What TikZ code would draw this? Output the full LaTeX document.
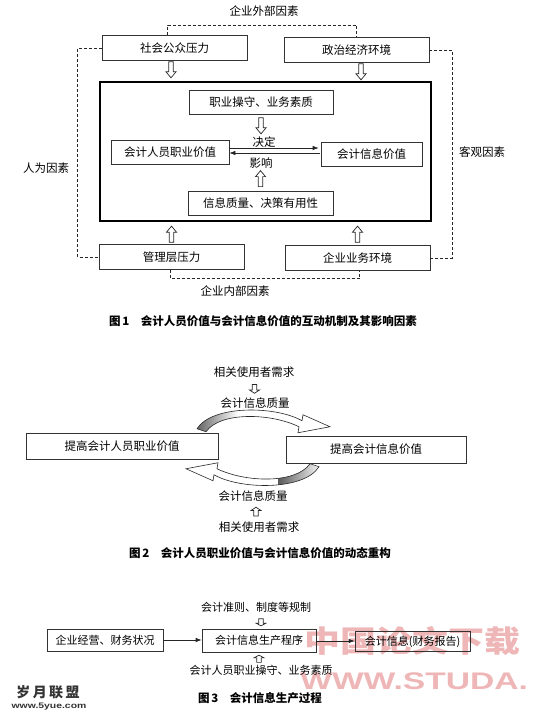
\documentclass[tikz,border=0pt]{standalone}
\usepackage{fontspec}
\setmainfont{Noto Sans CJK SC}
\newfontfamily\latinfont{Liberation Sans}
\usepackage{xcolor}
\usetikzlibrary{arrows.meta,positioning,calc}
\definecolor{wmpink}{RGB}{238,182,182}
\newcommand{\fsz}{\fontsize{11.5pt}{13pt}\selectfont}
\newcommand{\smfsz}{\fontsize{11pt}{13pt}\selectfont}
% outline of the bent arrow (pic coordinates, y down)
\newcommand{\bandpath}{(-61,-19) .. controls (-46,-43) and (18,-42) .. (44,-27)
  -- (45,-33) -- (72,-21) -- (40,-15) -- (41,-21)
  .. controls (12,-35) and (-38,-36) .. (-52,-16) -- cycle}

\begin{document}
\begin{tikzpicture}[
  x=1pt, y=-1pt, font=\fsz, >={Latex[length=6pt,width=4.5pt]},
  box/.style={draw=black!80, line width=0.7pt, inner sep=2pt},
  obox/.style={box, minimum width=145pt, minimum height=25pt},
  ibox/.style={box, minimum height=24pt},
  pbox/.style={box, font=\smfsz, minimum height=22pt},
  sysbox/.style={draw=black, line width=2.2pt, minimum width=331pt, minimum height=139pt},
  dashln/.style={draw=black!85, line width=0.8pt, dash pattern=on 3pt off 2pt},
  thinln/.style={draw=black!85, line width=0.7pt},
  captxt/.style={font=\fsz\bfseries},
  wmark/.style={text=wmpink, inner sep=0pt},
  hollow/.style={draw=black!85, line width=0.7pt, fill=white},
  pics/hdown/.style={code={
    \draw[hollow] (-2.2,0) -- (-2.2,10) -- (-5,10) -- (0,16) -- (5,10) -- (2.2,10) -- (2.2,0) -- cycle;}},
  pics/band/.style={code={
    \fill[white] \bandpath;
    \begin{scope}
      \clip \bandpath;
      \shade[left color=black!65, right color=white] (-64,-50) rectangle (-20,0);
    \end{scope}
    \draw[line width=0.6pt, black!85] \bandpath;}}]
\useasboundingbox (0,0) rectangle (536,719);

% watermarks
\node[wmark, font=\fontsize{30pt}{32pt}\selectfont\bfseries, xscale=1.2] (wm1) at (412,641) {中国论文下载};
\node[wmark, font=\latinfont\fontsize{24pt}{26pt}\selectfont\bfseries, xscale=1.4, anchor=west] (wm2) at (300,681) {WWW.STUDA.};
\node[font=\fontsize{14pt}{15pt}\selectfont\bfseries, text=black!80] (logo) at (48,692) {岁\,月\,联\,盟};
\node[font=\latinfont\fontsize{8pt}{9pt}\selectfont\bfseries, xscale=1.3, text=black!80] (url) at (49,707) {www.5yue.com};

% ---- figure 1: outer factors
\node (ext) at (264,11) {企业外部因素};
\node[obox] (soc) at (174.5,48) {社会公众压力};
\node[obox] (pol) at (356.5,50) {政治经济环境};
\node[obox] (mgt) at (171.5,257) {管理层压力};
\node[obox] (bus) at (357.5,258) {企业业务环境};
\node (int) at (235,291) {企业内部因素};
\node (hum) at (46,168) {人为因素};
\node (obj) at (482,152) {客观因素};
% interaction system
\node[sysbox] (sys) at (265.5,151.5) {};
\node[ibox, minimum width=144pt] (duty) at (261,102.5) {职业操守、业务素质};
\node[ibox, minimum width=118pt] (pv) at (170,152) {会计人员职业价值};
\node[ibox, minimum width=101pt] (iv) at (371.5,154) {会计信息价值};
\node[ibox, minimum width=145pt] (qual) at (260.5,203) {信息质量、决策有用性};
\node (dec) at (264,142) {决定};
\node (inf) at (261,163) {影响};
\draw[thinln, ->, shorten >=2pt] ([yshift=4pt]pv.east) -- ([yshift=4pt]pv.east -| iv.west);
\draw[thinln, ->, shorten <=1pt] ([yshift=1pt]iv.west) -- ([yshift=1pt]iv.west -| pv.east);
% dashed frames
\draw[dashln] ([xshift=-7pt]soc.north) -- ++(0,-10) -| (pol.north);
\draw[dashln] ([xshift=-1pt]mgt.south) -- ++(0,9) -| ([xshift=2pt]bus.south);
\draw[dashln] (soc.west) -- ++(-24,0) |- (mgt.west);
\draw[dashln] (pol.east) -- ++(23,0) |- (bus.east);
% hollow arrows
\pic at ([xshift=-3.5pt,yshift=-1pt]soc.south) {hdown};
\pic at ([xshift=4.5pt,yshift=-1pt]pol.south) {hdown};
\pic at ([yshift=-3pt]duty.south) {hdown};
\pic[rotate=180] at ([yshift=4pt]qual.north) {hdown};
\pic[rotate=180] at ([yshift=2pt]mgt.north) {hdown};
\pic[rotate=180] at ([yshift=3pt]bus.north) {hdown};
\node[captxt] (cap1) at (263,321) {图\,1\hspace{1em}会计人员价值与会计信息价值的互动机制及其影响因素};

% ---- figure 2
\node (need1) at (254,372) {相关使用者需求};
\node (q1) at (255,403) {会计信息质量};
\node[box, minimum width=192pt, minimum height=26pt] (lp) at (122,446) {提高会计人员职业价值};
\node[box, minimum width=180pt, minimum height=27pt] (rp) at (376,449.5) {提高会计信息价值};
\node (q2) at (253,496) {会计信息质量};
\node (need2) at (259,527) {相关使用者需求};
\pic[yscale=0.55] at ($(need1)!0.5!(q1)+(0,-3)$) {hdown};
\pic[rotate=180, yscale=0.55] at ($(q2)!0.5!(need2)+(0,4.5)$) {hdown};
\pic at ($(lp.east)!0.5!(rp.west)+(6,0)$) {band};
\pic[rotate=180] at ($(lp.east)!0.5!(rp.west)+(6,0)$) {band};
\node[captxt] (cap2) at (260,553) {图\,2\hspace{1em}会计人员职业价值与会计信息价值的动态重构};

% ---- figure 3
\node[font=\smfsz] (rules) at (256,607) {会计准则、制度等规制};
\node[pbox, minimum width=116pt] (bs) at (105,640) {企业经营、财务状况};
\node[pbox, minimum width=114pt, minimum height=23pt] (pp) at (259,640.5) {会计信息生产程序};
\node[pbox, minimum width=115pt, minimum height=20pt] (ai) at (412.5,641.5) {会计信息(财务报告)};
\node[font=\smfsz] (staff) at (261,670) {会计人员职业操守、业务素质};
\draw[thinln, ->] (bs.east) -- (bs.east -| pp.west);
\draw[thinln, ->] ([yshift=-0.5pt]pp.east) -- ([yshift=-0.5pt]pp.east -| ai.west);
\pic[yscale=0.45] at ([xshift=2pt,yshift=10pt]pp.north) {hdown};
\pic[rotate=180, yscale=0.45] at ([yshift=-10pt]pp.south) {hdown};
\node[captxt] (cap3) at (260,698) {图\,3\hspace{1em}会计信息生产过程};
\end{tikzpicture}
\end{document}
